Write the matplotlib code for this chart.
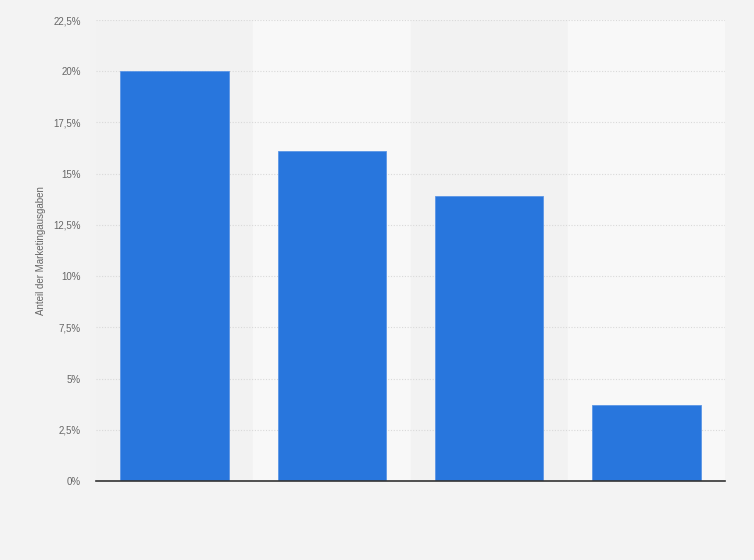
import numpy as np
from matplotlib import pyplot as plt
from matplotlib.ticker import FuncFormatter

plt.rcParams.update({"font.family": "Liberation Sans", "font.size": 7})

categories = ['A', 'B', 'C', 'D']
shares = [20.0, 16.1, 13.9, 3.7]
yticks = [0, 2.5, 5, 7.5, 10, 12.5, 15, 17.5, 20, 22.5]

bg = '#f3f3f3'
fig = plt.figure(figsize=(7.54, 5.6), dpi=100, facecolor=bg)
ax = fig.add_axes([96/754, 79/560, 629/754, 461/560])
ax.set_facecolor(bg)

x = np.arange(len(categories))
# alternating column bands
for i in x:
    ax.axvspan(i - 0.5, i + 0.5, color='#f2f2f2' if i % 2 == 0 else '#f8f8f8', zorder=0)

for t in yticks[1:]:
    ax.axhline(t, color='#d9d9d9', linewidth=0.8, linestyle=(0, (1, 1.5)), zorder=1)

ax.bar(x, shares, width=0.69, color='#2876dd', edgecolor='#5b96e6', linewidth=0.6, zorder=2)

ax.set_xlim(-0.5, len(categories) - 0.5)
ax.set_ylim(0, 22.5)
ax.set_yticks(yticks)
ax.yaxis.set_major_formatter(FuncFormatter(lambda v, p: f'{v:g}%'.replace('.', ',')))
ax.set_xticks([])
ax.tick_params(axis='y', length=0, pad=11, colors='#666666', labelsize=7)
for s in ['top', 'right', 'left']:
    ax.spines[s].set_visible(False)
ax.spines['bottom'].set_color('#333333')
ax.spines['bottom'].set_linewidth(1.2)
ax.spines['bottom'].set_zorder(3)
ax.set_ylabel('Anteil der Marketingausgaben', color='#666666', fontsize=7, labelpad=5)

plt.savefig('out.png', dpi=100, facecolor=bg)
